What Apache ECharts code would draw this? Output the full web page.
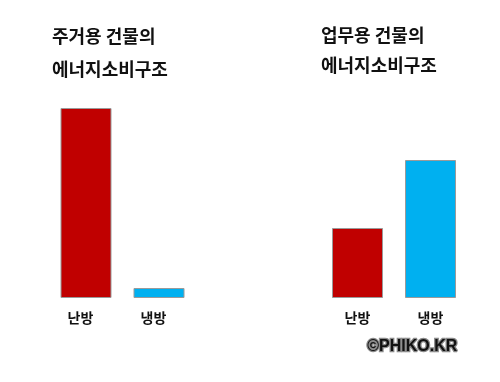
<!DOCTYPE html>
<html><head><meta charset="utf-8">
<script src="https://cdn.jsdelivr.net/npm/echarts@6/dist/echarts.min.js"></script>
<style>html,body{margin:0;padding:0;background:#fff}#c{width:500px;height:382px}</style>
</head><body><div id="c"></div>
<script>
const categories = ['난방', '냉방'];
const residentialValues = [95, 5];
const officeValues = [35, 69];
const titles = ['주거용 건물의\n에너지소비구조', '업무용 건물의\n에너지소비구조'];
const watermark = '©PHIKO.KR';

const colors = ['#C00000', '#00B0F0'];
const font = '"Noto Sans CJK KR", sans-serif';
const chart = echarts.init(document.getElementById('c'), null, {renderer: 'canvas'});

function mkData(vals) {
  return vals.map((v, i) => ({value: v, itemStyle: {color: colors[i]}}));
}
function xAxis(idx, pad) {
  return {
    type: 'category', gridIndex: idx, data: categories,
    axisLine: {show: false}, axisTick: {show: false},
    axisLabel: {color: '#111', fontSize: 14, fontWeight: 'bold', fontFamily: font, margin: 13, padding: pad}
  };
}
function yAxis(idx) {
  return {type: 'value', gridIndex: idx, min: 0, max: 100, show: false};
}
chart.setOption({
  animation: false,
  title: [
    {text: titles[0], left: 47, top: 15, textStyle: {fontSize: 18, fontWeight: 'bold', fontFamily: font, color: '#111', lineHeight: 33}},
    {text: titles[1], left: 316, top: 15, textStyle: {fontSize: 18, fontWeight: 'bold', fontFamily: font, color: '#111', lineHeight: 30}}
  ],
  grid: [
    {left: 49.5, width: 146, top: 98, height: 200},
    {left: 321, width: 146, top: 98, height: 200}
  ],
  xAxis: [xAxis(0, [0, 11, 0, 0]), xAxis(1, [0, 0, 0, 0])],
  yAxis: [yAxis(0), yAxis(1)],
  series: [
    {type: 'bar', xAxisIndex: 0, yAxisIndex: 0, barWidth: 51, data: mkData(residentialValues),
     itemStyle: {borderColor: '#9a9a9a', borderWidth: 1}},
    {type: 'bar', xAxisIndex: 1, yAxisIndex: 1, barWidth: 51, data: mkData(officeValues),
     itemStyle: {borderColor: '#9a9a9a', borderWidth: 1}}
  ],
  graphic: [
    {type: 'text', left: 366, top: 337, style: {text: watermark, fontSize: 16, fontWeight: 'bold', fontFamily: 'Liberation Sans, sans-serif', fill: '#111', stroke: '#8a8a8a', lineWidth: 2.5, shadowColor: 'rgba(0,0,0,0.35)', shadowBlur: 3}}
  ]
});
</script></body></html>
